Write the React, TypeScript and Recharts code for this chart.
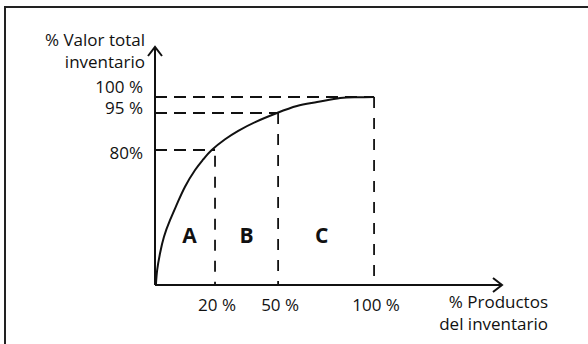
import React from "react";
import {
  ComposedChart,
  Line,
  XAxis,
  YAxis,
  ReferenceLine,
  ReferenceDot,
} from "recharts";

// Curva ABC (Pareto). The original sketch is not drawn to a linear scale,
// so axis units are "diagram units": 100 = the 100 % mark on each axis.
const curveX = [0.4, 1, 2.3, 4.1, 6.9, 10.2, 13.7, 18.3, 22, 25.9, 32, 38, 46, 55.7, 64.8, 74, 84.5, 92, 100];
const curveY = [0, 8, 16.9, 25.7, 34.6, 43.5, 52.3, 61.2, 66.8, 71.8, 77.5, 82, 86.8, 91.5, 95.2, 97.3, 99.5, 99.9, 100];

// where the category cut points sit on the drawn x axis
const xTicks = [27.4, 56.2, 100];
const xTickLabels = ["20 %", "50 %", "100 %"];

// cumulative value levels on the drawn y axis
const yTicks = [71.8, 91.5, 100];
const yTickLabels = ["80%", "95 %", "100 %"];
const yTickShift = [2, -5, -11];

const zones = ["A", "B", "C"];

const X_MAX = 158.4;
const Y_MAX = 126.6;

const data = curveX.map((x, i) => ({ x, y: curveY[i] }));

const FONT = "'Open Sans', Lato, sans-serif";
const FS = 17;
const INK = "#111";

const XTick = (props: any) => {
  const i = xTicks.indexOf(props.payload.value);
  return (
    <text
      x={props.x + 2}
      y={props.y + 17}
      textAnchor="middle"
      dominantBaseline="central"
      fontFamily={FONT}
      fontSize={FS}
      fill={INK}
    >
      {xTickLabels[i]}
    </text>
  );
};

const YTick = (props: any) => {
  const i = yTicks.indexOf(props.payload.value);
  return (
    <text
      x={props.x - 10}
      y={props.y + yTickShift[i]}
      textAnchor="end"
      dominantBaseline="central"
      fontFamily={FONT}
      fontSize={FS}
      fill={INK}
    >
      {yTickLabels[i]}
    </text>
  );
};

const YTitle = (props: any) => {
  const vb = props.viewBox || {};
  const x = vb.x + vb.width - 10;
  const t = { x, textAnchor: "end" as const, dominantBaseline: "central" as const, fontFamily: FONT, fontSize: FS, fill: INK };
  return (
    <g>
      <text {...t} y={vb.y - 8}>% Valor total</text>
      <text {...t} y={vb.y + 14}>inventario</text>
    </g>
  );
};

const XTitle = (props: any) => {
  const vb = props.viewBox || {};
  const x = vb.x + vb.width + 46;
  const t = { x, textAnchor: "end" as const, dominantBaseline: "central" as const, fontFamily: FONT, fontSize: FS, fill: INK };
  return (
    <g>
      <text {...t} y={vb.y + 16}>% Productos</text>
      <text {...t} y={vb.y + 38}>del inventario</text>
    </g>
  );
};

const ArrowRight = (props: any) => (
  <polyline
    points={`${props.cx - 9},${props.cy - 7} ${props.cx},${props.cy} ${props.cx - 9},${props.cy + 7}`}
    fill="none"
    stroke={INK}
    strokeWidth={2}
  />
);

const ArrowUp = (props: any) => (
  <polyline
    points={`${props.cx - 7},${props.cy + 9} ${props.cx},${props.cy} ${props.cx + 7},${props.cy + 9}`}
    fill="none"
    stroke={INK}
    strokeWidth={2}
  />
);

const ZoneLabel = (text: string) => (props: any) => (
  <text
    x={props.cx}
    y={props.cy}
    textAnchor="middle"
    dominantBaseline="central"
    fontFamily={FONT}
    fontWeight={700}
    fontSize={21}
    fill={INK}
  >
    {text}
  </text>
);

// horizontal guides have shorter gaps than the vertical ones in the sketch
const hDash = { stroke: INK, strokeWidth: 1.8, strokeDasharray: "12 7" };
const vDash = { stroke: INK, strokeWidth: 1.8, strokeDasharray: "11 10" };

export default function App() {
  const bounds = [0, ...xTicks];
  return (
    <div
      style={{
        position: "absolute",
        left: 0,
        top: 0,
        width: 588,
        height: 344,
        overflow: "hidden",
        background: "#fff",
      }}
    >
      <div
        style={{
          position: "absolute",
          left: 4,
          top: 6,
          width: 700,
          height: 500,
          border: "2px solid #222",
        }}
      />
      <div style={{ position: "absolute", left: 0, top: 0 }}>
        <ComposedChart
          width={588}
          height={344}
          data={data}
          margin={{ top: 47, right: 86, bottom: 19, left: 95 }}
        >
          <XAxis
            type="number"
            dataKey="x"
            domain={[0, X_MAX]}
            ticks={xTicks}
            interval={0}
            tick={<XTick />}
            tickLine={false}
            tickSize={0}
            height={40}
            axisLine={{ stroke: INK, strokeWidth: 2 }}
            allowDataOverflow
            label={<XTitle />}
          />
          <YAxis
            type="number"
            domain={[0, Y_MAX]}
            ticks={yTicks}
            interval={0}
            tick={<YTick />}
            tickLine={false}
            tickSize={0}
            width={60}
            axisLine={{ stroke: INK, strokeWidth: 2 }}
            allowDataOverflow
            label={<YTitle />}
          />

          <ReferenceLine segment={[{ x: 0, y: yTicks[0] }, { x: xTicks[0], y: yTicks[0] }]} {...hDash} />
          <ReferenceLine segment={[{ x: xTicks[0], y: yTicks[0] - 3 }, { x: xTicks[0], y: 0 }]} {...vDash} />
          <ReferenceLine segment={[{ x: 0, y: yTicks[1] }, { x: xTicks[1], y: yTicks[1] }]} {...hDash} />
          <ReferenceLine segment={[{ x: xTicks[1], y: yTicks[1] }, { x: xTicks[1], y: 0 }]} {...vDash} />
          <ReferenceLine segment={[{ x: 0, y: yTicks[2] }, { x: xTicks[2], y: yTicks[2] }]} {...hDash} />
          <ReferenceLine segment={[{ x: xTicks[2], y: yTicks[2] }, { x: xTicks[2], y: 0 }]} {...vDash} />

          <Line
            type="natural"
            dataKey="y"
            stroke={INK}
            strokeWidth={2}
            dot={false}
            activeDot={false}
            isAnimationActive={false}
          />

          {zones.map((z, i) => (
            <ReferenceDot
              key={z}
              x={(bounds[i] + bounds[i + 1]) / 2 + (i === 0 ? 2 : i === 2 ? -2 : 0)}
              y={26.6}
              r={0}
              shape={ZoneLabel(z)}
            />
          ))}

          <ReferenceDot x={X_MAX} y={0} r={0} shape={ArrowRight} ifOverflow="visible" />
          <ReferenceDot x={0} y={Y_MAX} r={0} shape={ArrowUp} ifOverflow="visible" />
        </ComposedChart>
      </div>
    </div>
  );
}
